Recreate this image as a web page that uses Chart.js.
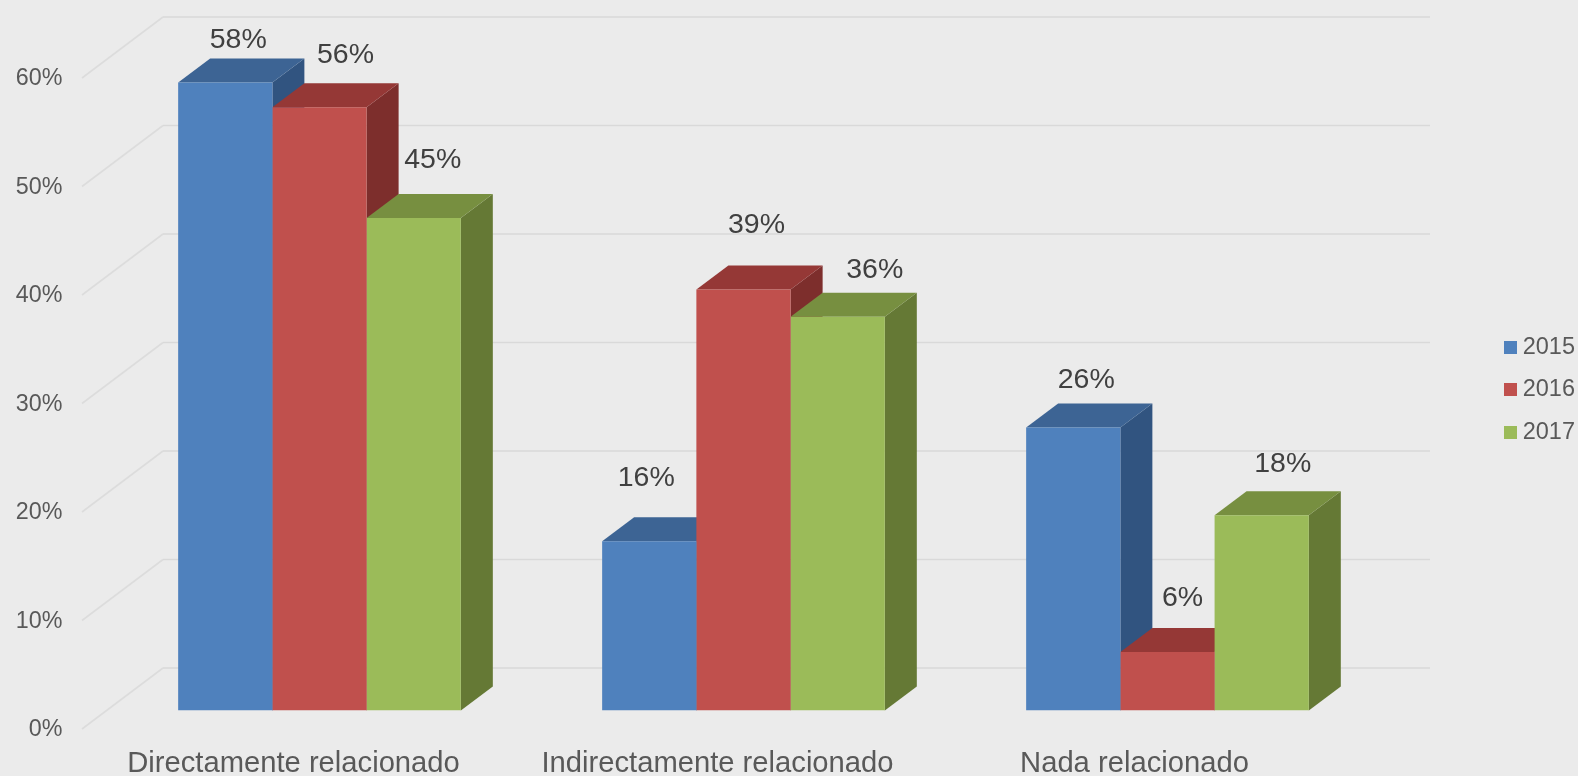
<!DOCTYPE html>
<html>
<head>
<meta charset="utf-8">
<style>html,body{margin:0;padding:0;background:#ebebeb;overflow:hidden}canvas{display:block}</style>
<script src="https://cdn.jsdelivr.net/npm/chart.js@4"></script>
</head>
<body>
<canvas id="c" width="1578" height="776"></canvas>
<script>
const categories = ["Directamente relacionado", "Indirectamente relacionado", "Nada relacionado"];
const years = ["2015", "2016", "2017"];
const values2015 = [57.9, 15.6, 26.1];
const values2016 = [55.6, 38.8, 5.4];
const values2017 = [45.4, 36.3, 18.0];
const labels2015 = ["58%", "16%", "26%"];
const labels2016 = ["56%", "39%", "6%"];
const labels2017 = ["45%", "36%", "18%"];
const yTicks = [0, 10, 20, 30, 40, 50, 60];

const FONT = "'Liberation Sans', Arial, sans-serif";
const depthX = 32, depthY = 24;
const faces = [
  {front:"#4f81bd", top:"#3d6494", side:"#315480"},
  {front:"#c0504d", top:"#953836", side:"#7d2e2c"},
  {front:"#9bbb59", top:"#778f40", side:"#657935"}
];
const labelText = [labels2015, labels2016, labels2017];
const labelNudge = [
  [[13,-42],[-3,-63],[13,-47]],
  [[26,-52],[13,-64],[15,-54]],
  [[19,-58],[37,-47],[21,-51]]
];
const categoryNudge = [0, 0, -7];

function swatch(color){
  const s = document.createElement("canvas");
  s.width = 13; s.height = 13;
  const g = s.getContext("2d");
  g.fillStyle = color; g.fillRect(0,0,13,13);
  return s;
}

const depth3d = {
  id:"depth3d",
  beforeDatasetsDraw(chart){
    const y = chart.scales.y, ctx = chart.ctx;
    ctx.save();
    ctx.lineWidth = 1.6;
    y.ticks.forEach(t=>{
      const p = y.getPixelForValue(t.value);
      ctx.strokeStyle = "#dcdcdc";
      ctx.beginPath(); ctx.moveTo(82,p+18.4); ctx.lineTo(163,p-42.6); ctx.stroke();
      ctx.strokeStyle = "#d9d9d9";
      ctx.beginPath(); ctx.moveTo(163,p-42.6); ctx.lineTo(1430,p-42.6); ctx.stroke();
    });
    chart.data.datasets.forEach((d,i)=>{
      const f = faces[i];
      chart.getDatasetMeta(i).data.forEach(b=>{
        const l = b.x-b.width/2, r = b.x+b.width/2, t = b.y, base = b.base;
        ctx.fillStyle = f.side;
        ctx.beginPath(); ctx.moveTo(r,t); ctx.lineTo(r+depthX,t-depthY); ctx.lineTo(r+depthX,base-depthY); ctx.lineTo(r,base); ctx.closePath(); ctx.fill();
        ctx.fillStyle = f.top;
        ctx.beginPath(); ctx.moveTo(l,t); ctx.lineTo(r,t); ctx.lineTo(r+depthX,t-depthY); ctx.lineTo(l+depthX,t-depthY); ctx.closePath(); ctx.fill();
      });
    });
    ctx.restore();
  }
};

const valueLabels = {
  id:"valueLabels",
  afterDatasetsDraw(chart){
    const ctx = chart.ctx;
    ctx.save();
    ctx.font = "28.5px "+FONT;
    ctx.fillStyle = "#404040";
    ctx.textAlign = "center";
    ctx.textBaseline = "middle";
    chart.data.datasets.forEach((d,i)=>{
      chart.getDatasetMeta(i).data.forEach((b,j)=>{
        ctx.fillText(labelText[i][j], b.x+labelNudge[i][j][0], b.y+labelNudge[i][j][1]);
      });
    });
    ctx.restore();
  }
};

const shiftCategories = {
  id:"shiftCategories",
  beforeDraw(chart){
    const x = chart.scales.x;
    x.bottom = chart.height;
    x.getLabelItems().forEach((it,i)=>{
      if(!it._moved){ it.options.translation[0] += categoryNudge[i]; it._moved = true; }
    });
  }
};

new Chart(document.getElementById("c"),{
  type:"bar",
  data:{
    labels:categories,
    datasets:[
      {label:years[0],data:values2015,backgroundColor:faces[0].front},
      {label:years[1],data:values2016,backgroundColor:faces[1].front},
      {label:years[2],data:values2017,backgroundColor:faces[2].front}
    ]
  },
  plugins:[depth3d,valueLabels,shiftCategories],
  options:{
    responsive:false,
    animation:false,
    devicePixelRatio:1,
    layout:{padding:{top:59.6,bottom:56,left:0,right:-7}},
    datasets:{bar:{barPercentage:1,categoryPercentage:0.6667,borderWidth:0}},
    plugins:{
      tooltip:{enabled:false},
      title:{display:false},
      legend:{
        position:"right",
        labels:{
          usePointStyle:true,
          pointStyleWidth:1,
          boxWidth:13,
          padding:19,
          color:"#595959",
          font:{family:FONT,size:23.5},
          generateLabels(chart){
            return Chart.defaults.plugins.legend.labels.generateLabels(chart).map((it,i)=>({...it,pointStyle:swatch(faces[i].front)}));
          }
        }
      }
    },
    scales:{
      x:{
        grid:{display:false,drawTicks:false},
        border:{display:false},
        ticks:{color:"#595959",font:{family:FONT,size:29.2},padding:36,labelOffset:-26,maxRotation:0,autoSkip:false},
        afterFit(s){s.height=9.4;}
      },
      y:{
        min:0,max:60,
        grid:{display:false,drawTicks:false},
        border:{display:false},
        afterBuildTicks(s){s.ticks=yTicks.map(v=>({value:v}));},
        ticks:{color:"#595959",font:{family:FONT,size:23.3},padding:45,labelOffset:19,callback:v=>v+"%"},
        afterFit(s){s.width=107.5;}
      },
      spacer:{
        type:"linear",axis:"y",position:"right",
        grid:{display:false,drawTicks:false},
        border:{display:false},
        ticks:{display:false},
        afterFit(s){s.width=111.5;}
      }
    }
  }
});
</script>
</body>
</html>
